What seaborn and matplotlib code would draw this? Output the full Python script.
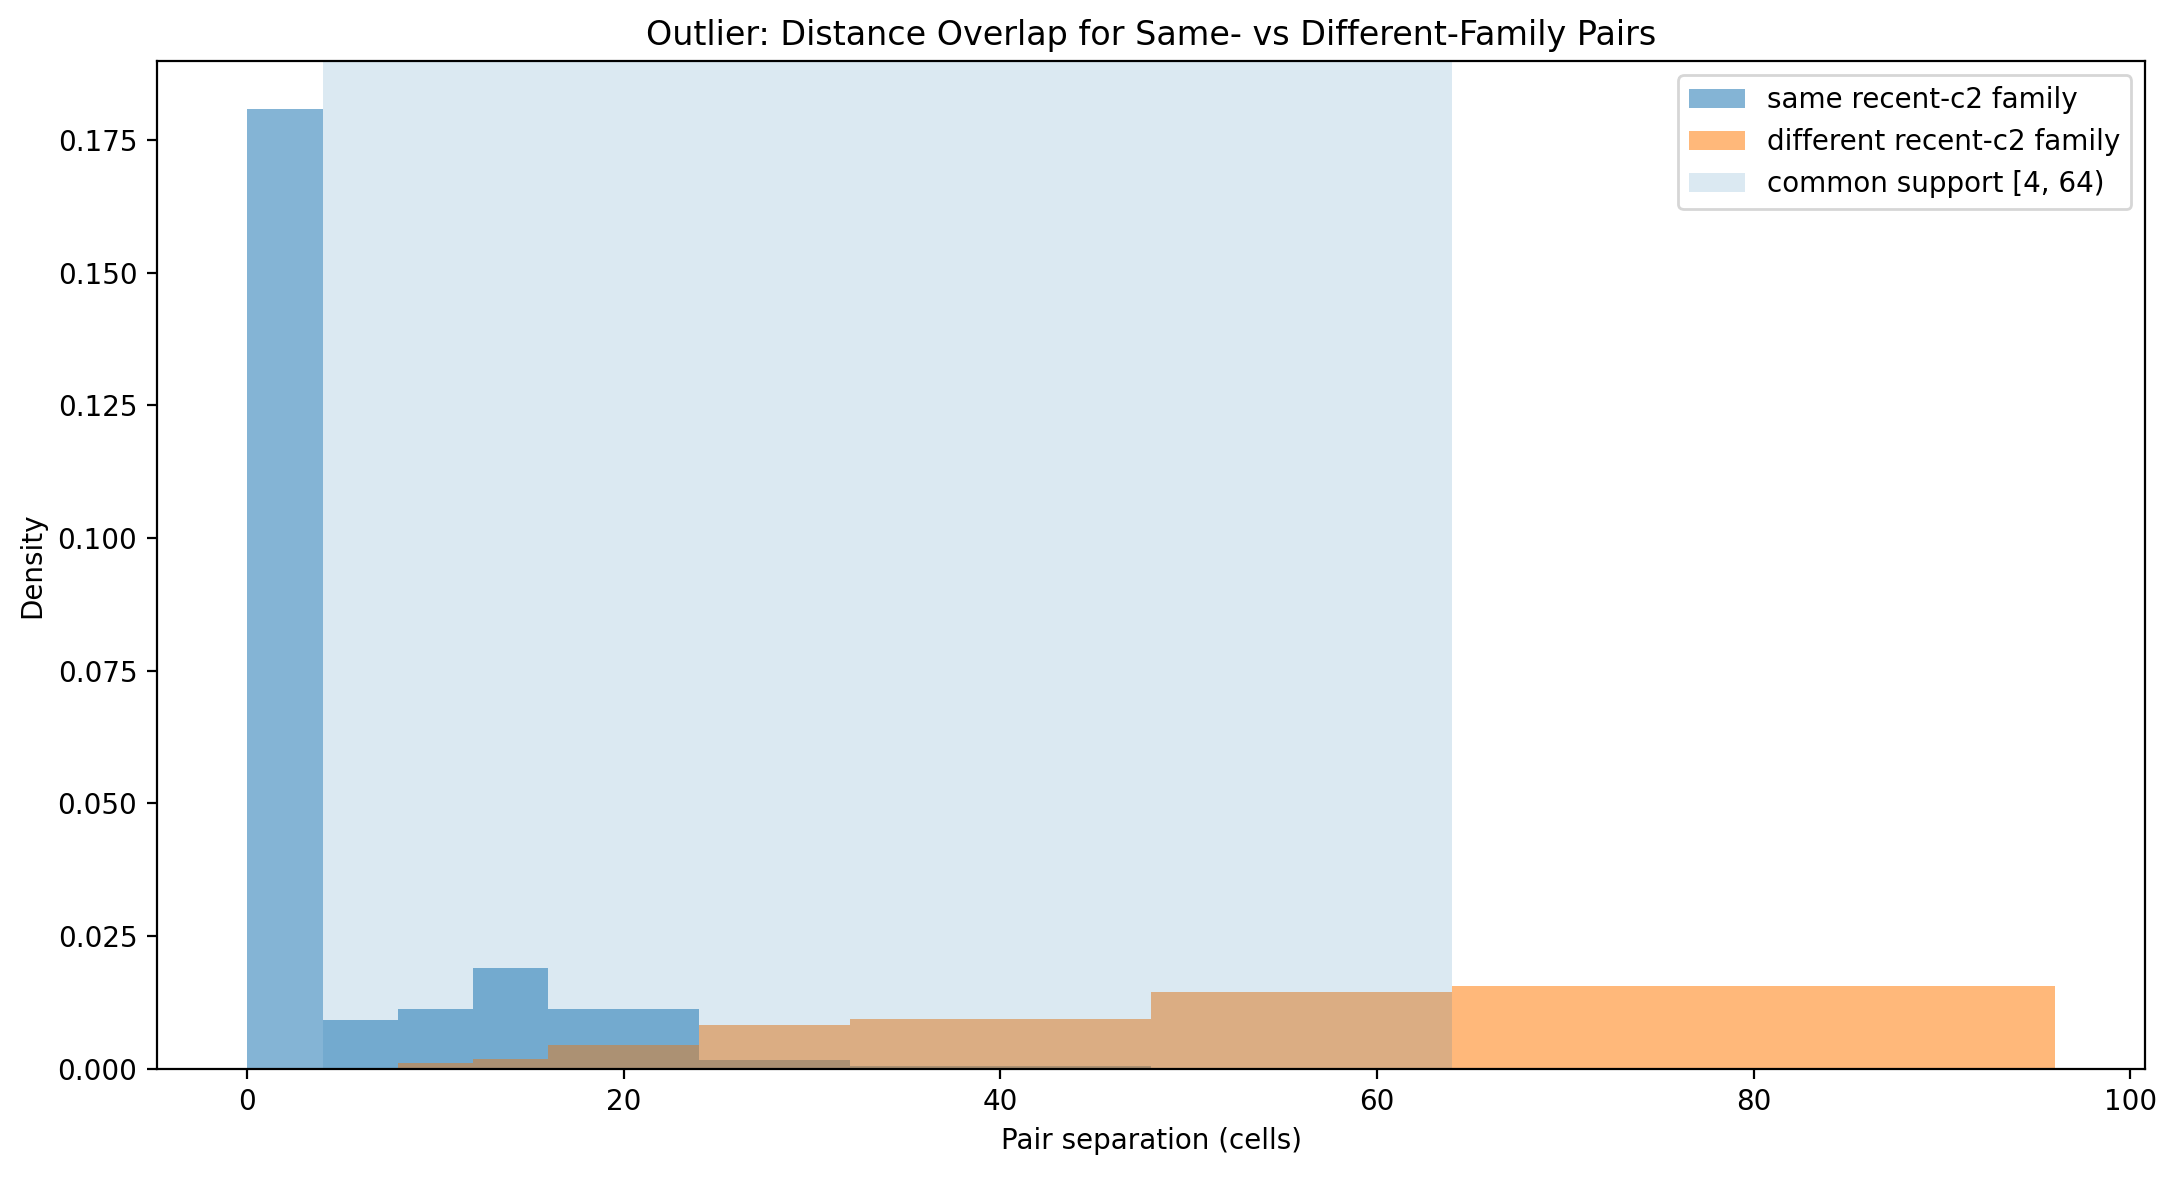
import matplotlib
matplotlib.use("Agg")
import matplotlib.pyplot as plt
import seaborn as sns
import numpy as np

# bordas dos bins (distância em células)
bin_edges = [0, 4, 8, 12, 16, 24, 32, 48, 64, 96]
bin_left = bin_edges[:-1]

# densidades
same_density = [0.1808, 0.0092, 0.0113, 0.0190, 0.0113, 0.0016, 0.0005, 0.0, 0.0]
diff_density = [0.0, 0.0, 0.0011, 0.0019, 0.0045, 0.0083, 0.0094, 0.0145, 0.0156]

support = (4, 64)

fig, ax = plt.subplots(figsize=(10.89, 5.885), dpi=200)

sns.histplot(x=bin_left, weights=same_density, bins=bin_edges, stat="count",
             color="tab:blue", alpha=0.55, linewidth=0,
             label="same recent-c2 family", ax=ax)
sns.histplot(x=bin_left, weights=diff_density, bins=bin_edges, stat="count",
             color="tab:orange", alpha=0.55, linewidth=0,
             label="different recent-c2 family", ax=ax)
# faixa de suporte comum por cima das barras
ax.axvspan(support[0], support[1], color="tab:blue", alpha=0.16, linewidth=0,
           label=f"common support [{support[0]}, {support[1]})")

ax.set_title("Outlier: Distance Overlap for Same- vs Different-Family Pairs")
ax.set_xlabel("Pair separation (cells)")
ax.set_ylabel("Density")

# ordem da legenda igual à original
handles, labels = ax.get_legend_handles_labels()
order = ["same recent-c2 family", "different recent-c2 family",
         f"common support [{support[0]}, {support[1]})"]
hmap = dict(zip(labels, handles))
ax.legend([hmap[k] for k in order], order, loc="upper right")

fig.subplots_adjust(left=0.072, right=0.985, top=0.948, bottom=0.092)
plt.savefig("out.png", dpi=200)
